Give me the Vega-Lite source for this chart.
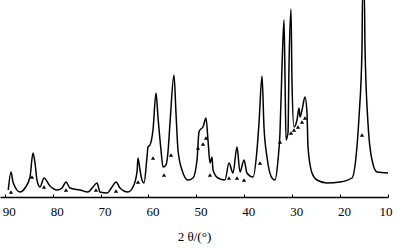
{
  "$schema": "https://vega.github.io/schema/vega-lite/v6.json",
  "autosize": "none",
  "width": 388,
  "height": 197,
  "padding": {"left": 0, "top": 0, "right": 15, "bottom": 51},
  "background": "white",
  "config": {"view": {"stroke": null}},
  "datasets": {
    "pattern": [
      {"t": 89.27, "i": 7}, {"t": 88.70, "i": 25}, {"t": 88.29, "i": 15}, {"t": 86.82, "i": 5},
      {"t": 85.78, "i": 9}, {"t": 84.74, "i": 20}, {"t": 84.11, "i": 44}, {"t": 83.69, "i": 34},
      {"t": 83.28, "i": 17}, {"t": 82.65, "i": 10}, {"t": 81.81, "i": 19}, {"t": 80.56, "i": 11},
      {"t": 79.10, "i": 7}, {"t": 78.06, "i": 9}, {"t": 77.22, "i": 15}, {"t": 76.39, "i": 9},
      {"t": 74.30, "i": 7}, {"t": 72.63, "i": 5}, {"t": 71.59, "i": 10}, {"t": 70.75, "i": 14},
      {"t": 70.12, "i": 5}, {"t": 68.66, "i": 4}, {"t": 67.62, "i": 10}, {"t": 66.78, "i": 15},
      {"t": 65.95, "i": 9}, {"t": 64.28, "i": 5}, {"t": 63.24, "i": 10}, {"t": 62.40, "i": 25},
      {"t": 62.19, "i": 39}, {"t": 61.77, "i": 27}, {"t": 61.36, "i": 17}, {"t": 60.94, "i": 14},
      {"t": 60.31, "i": 40}, {"t": 60.10, "i": 50}, {"t": 59.69, "i": 52}, {"t": 59.06, "i": 67},
      {"t": 58.43, "i": 104}, {"t": 58.02, "i": 80}, {"t": 57.39, "i": 47}, {"t": 56.97, "i": 30},
      {"t": 56.35, "i": 32}, {"t": 55.93, "i": 45}, {"t": 55.51, "i": 74}, {"t": 54.68, "i": 122},
      {"t": 54.26, "i": 84}, {"t": 53.84, "i": 47}, {"t": 53.01, "i": 27}, {"t": 51.75, "i": 17},
      {"t": 50.71, "i": 19}, {"t": 49.87, "i": 37}, {"t": 49.46, "i": 65}, {"t": 49.25, "i": 67},
      {"t": 48.62, "i": 70}, {"t": 48.00, "i": 79}, {"t": 47.58, "i": 57}, {"t": 47.16, "i": 34},
      {"t": 46.74, "i": 40}, {"t": 46.53, "i": 27}, {"t": 45.49, "i": 19}, {"t": 44.03, "i": 17},
      {"t": 43.19, "i": 34}, {"t": 42.36, "i": 24}, {"t": 41.52, "i": 50}, {"t": 40.90, "i": 25},
      {"t": 40.06, "i": 37}, {"t": 39.44, "i": 24}, {"t": 38.18, "i": 20}, {"t": 37.35, "i": 47},
      {"t": 36.93, "i": 74}, {"t": 36.30, "i": 121}, {"t": 35.89, "i": 70}, {"t": 35.26, "i": 40},
      {"t": 34.22, "i": 19}, {"t": 33.59, "i": 17}, {"t": 32.96, "i": 37}, {"t": 32.55, "i": 64},
      {"t": 32.13, "i": 130}, {"t": 31.71, "i": 177}, {"t": 31.50, "i": 120}, {"t": 31.29, "i": 57},
      {"t": 30.88, "i": 64}, {"t": 30.67, "i": 130}, {"t": 30.25, "i": 188}, {"t": 30.04, "i": 114},
      {"t": 29.63, "i": 70}, {"t": 29.00, "i": 77}, {"t": 28.58, "i": 89}, {"t": 28.37, "i": 80},
      {"t": 27.95, "i": 87}, {"t": 27.33, "i": 100}, {"t": 26.91, "i": 84}, {"t": 26.70, "i": 50},
      {"t": 25.87, "i": 24}, {"t": 24.82, "i": 17}, {"t": 22.74, "i": 14}, {"t": 20.02, "i": 15},
      {"t": 17.52, "i": 19}, {"t": 16.68, "i": 40}, {"t": 16.05, "i": 80}, {"t": 15.43, "i": 147},
      {"t": 15.30, "i": 205}, {"t": 14.95, "i": 205}, {"t": 14.80, "i": 150}, {"t": 14.18, "i": 74},
      {"t": 13.34, "i": 37}, {"t": 12.30, "i": 25}, {"t": 10.00, "i": 24}
    ],
    "markers": [
      {"t": 88.70, "i": 5}, {"t": 84.32, "i": 20}, {"t": 81.81, "i": 10}, {"t": 77.22, "i": 7},
      {"t": 70.96, "i": 7}, {"t": 66.78, "i": 6}, {"t": 62.19, "i": 15}, {"t": 59.06, "i": 39},
      {"t": 56.76, "i": 22}, {"t": 55.30, "i": 42}, {"t": 49.67, "i": 49}, {"t": 48.62, "i": 53},
      {"t": 48.00, "i": 59}, {"t": 47.16, "i": 22}, {"t": 43.19, "i": 19}, {"t": 41.52, "i": 19},
      {"t": 40.06, "i": 17}, {"t": 36.72, "i": 34}, {"t": 32.55, "i": 55}, {"t": 30.25, "i": 64},
      {"t": 29.63, "i": 67}, {"t": 28.79, "i": 70}, {"t": 27.95, "i": 75}, {"t": 27.33, "i": 79},
      {"t": 15.43, "i": 62}
    ]
  },
  "encoding": {
    "x": {
      "field": "t", "type": "quantitative",
      "scale": {"domain": [91, 10], "nice": false, "zero": false},
      "axis": {
        "title": "2 θ/(°)",
        "values": [90, 80, 70, 60, 50, 40, 30, 20, 10],
        "grid": false,
        "domainColor": "black", "domainWidth": 1.3,
        "tickColor": "black", "tickSize": -3,
        "labelFont": "Liberation Serif", "labelFontSize": 13, "labelColor": "black",
        "labelPadding": 11, "labelOffset": 4,
        "titleFont": "Liberation Serif", "titleFontSize": 13, "titleFontWeight": "normal",
        "titleColor": "black", "titlePadding": 12
      }
    },
    "y": {
      "field": "i", "type": "quantitative",
      "scale": {"domain": [0, 197], "nice": false},
      "axis": null
    }
  },
  "layer": [
    {
      "data": {"name": "pattern"},
      "mark": {"type": "line", "color": "black", "strokeWidth": 1.5, "clip": true, "interpolate": "monotone"}
    },
    {
      "data": {"name": "markers"},
      "mark": {"type": "point", "shape": "triangle-up", "filled": true, "color": "black", "size": 18, "opacity": 1}
    }
  ]
}
